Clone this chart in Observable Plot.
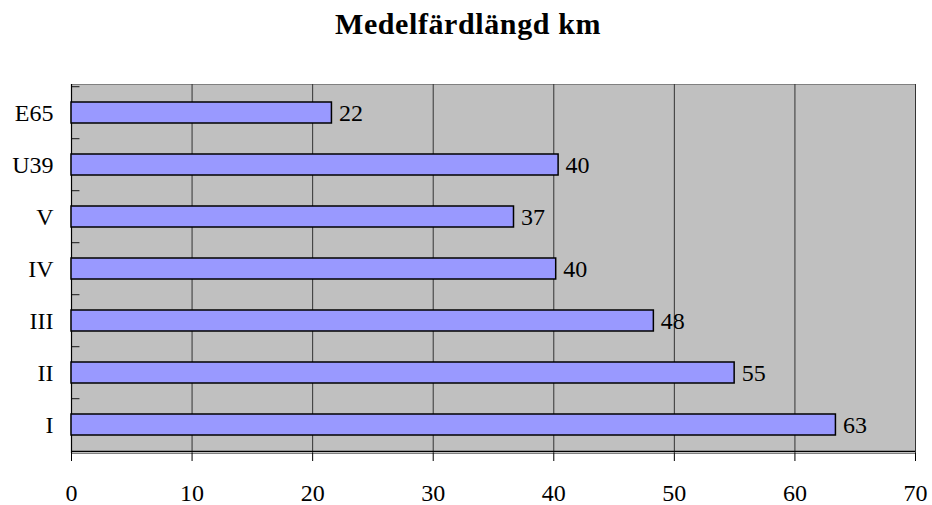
<!DOCTYPE html>
<html>
<head>
<meta charset="utf-8">
<script src="https://cdn.jsdelivr.net/npm/d3@7"></script>
<script src="https://cdn.jsdelivr.net/npm/@observablehq/plot@0.6"></script>
<style>
  html, body { margin: 0; padding: 0; background: #fff; }
  #title { height: 45px; width: 932px; box-sizing: border-box; padding-top: 6px; text-align: center;
           font-family: "Liberation Serif", "Times New Roman", serif; font-weight: bold; font-size: 30px;
           line-height: 35px; letter-spacing: 0.6px; padding-left: 4px; }
</style>
</head>
<body>
<div id="title">Medelfärdlängd km</div>
<div id="chart"></div>
<script>
const categories = ["E65", "U39", "V", "IV", "III", "II", "I"];
const values = [21.6, 40.4, 36.7, 40.2, 48.3, 55.0, 63.4];
const xTicks = [0, 10, 20, 30, 40, 50, 60, 70];

const data = categories.map((c, i) => ({cat: c, value: values[i]}));

const height = 460, marginTop = 39, marginBottom = 52;
const step = (height - marginTop - marginBottom) / categories.length;
const font = "'Liberation Serif', 'Times New Roman', serif";
const fs = 24;

const chart = Plot.plot({
  width: 932,
  height,
  marginLeft: 71,
  marginRight: 17,
  marginTop,
  marginBottom,
  style: {fontFamily: font, fontSize: fs + "px", color: "#000", background: "#fff", overflow: "visible"},
  x: {domain: [0, 70], ticks: xTicks, label: null, tickSize: 8, tickPadding: 22},
  y: {domain: categories, paddingInner: 0.6, paddingOuter: 0.3, label: null, tickSize: 0, tickPadding: 18},
  marks: [
    Plot.frame({fill: "#c0c0c0", stroke: "#808080"}),
    Plot.ruleX(xTicks.filter(t => t > 0), {stroke: "#333", strokeWidth: 1}),
    Plot.ruleY(categories, {y: d => d, x1: 0, x2: 0.7, dy: -step / 2, stroke: "#333", strokeWidth: 1.2}),
    Plot.ruleX([0], {stroke: "#000", strokeWidth: 1.2}),
    Plot.ruleY([0], {y: () => categories[categories.length - 1], dy: step / 2, stroke: "#000", strokeWidth: 1.2}),
    Plot.barX(data, {x: "value", y: "cat", fill: "#9999ff", stroke: "#000", strokeWidth: 1.5}),
    Plot.text(data, {x: "value", y: "cat", text: d => String(Math.round(d.value)), textAnchor: "start", dx: 7, fontSize: fs, fill: "#000"}),
    Plot.axisX({ticks: xTicks, tickSize: 8, tickPadding: 22, fontSize: fs}),
    Plot.axisY({tickSize: 0, tickPadding: 18, fontSize: fs})
  ]
});
document.getElementById("chart").appendChild(chart);
</script>
</body>
</html>
